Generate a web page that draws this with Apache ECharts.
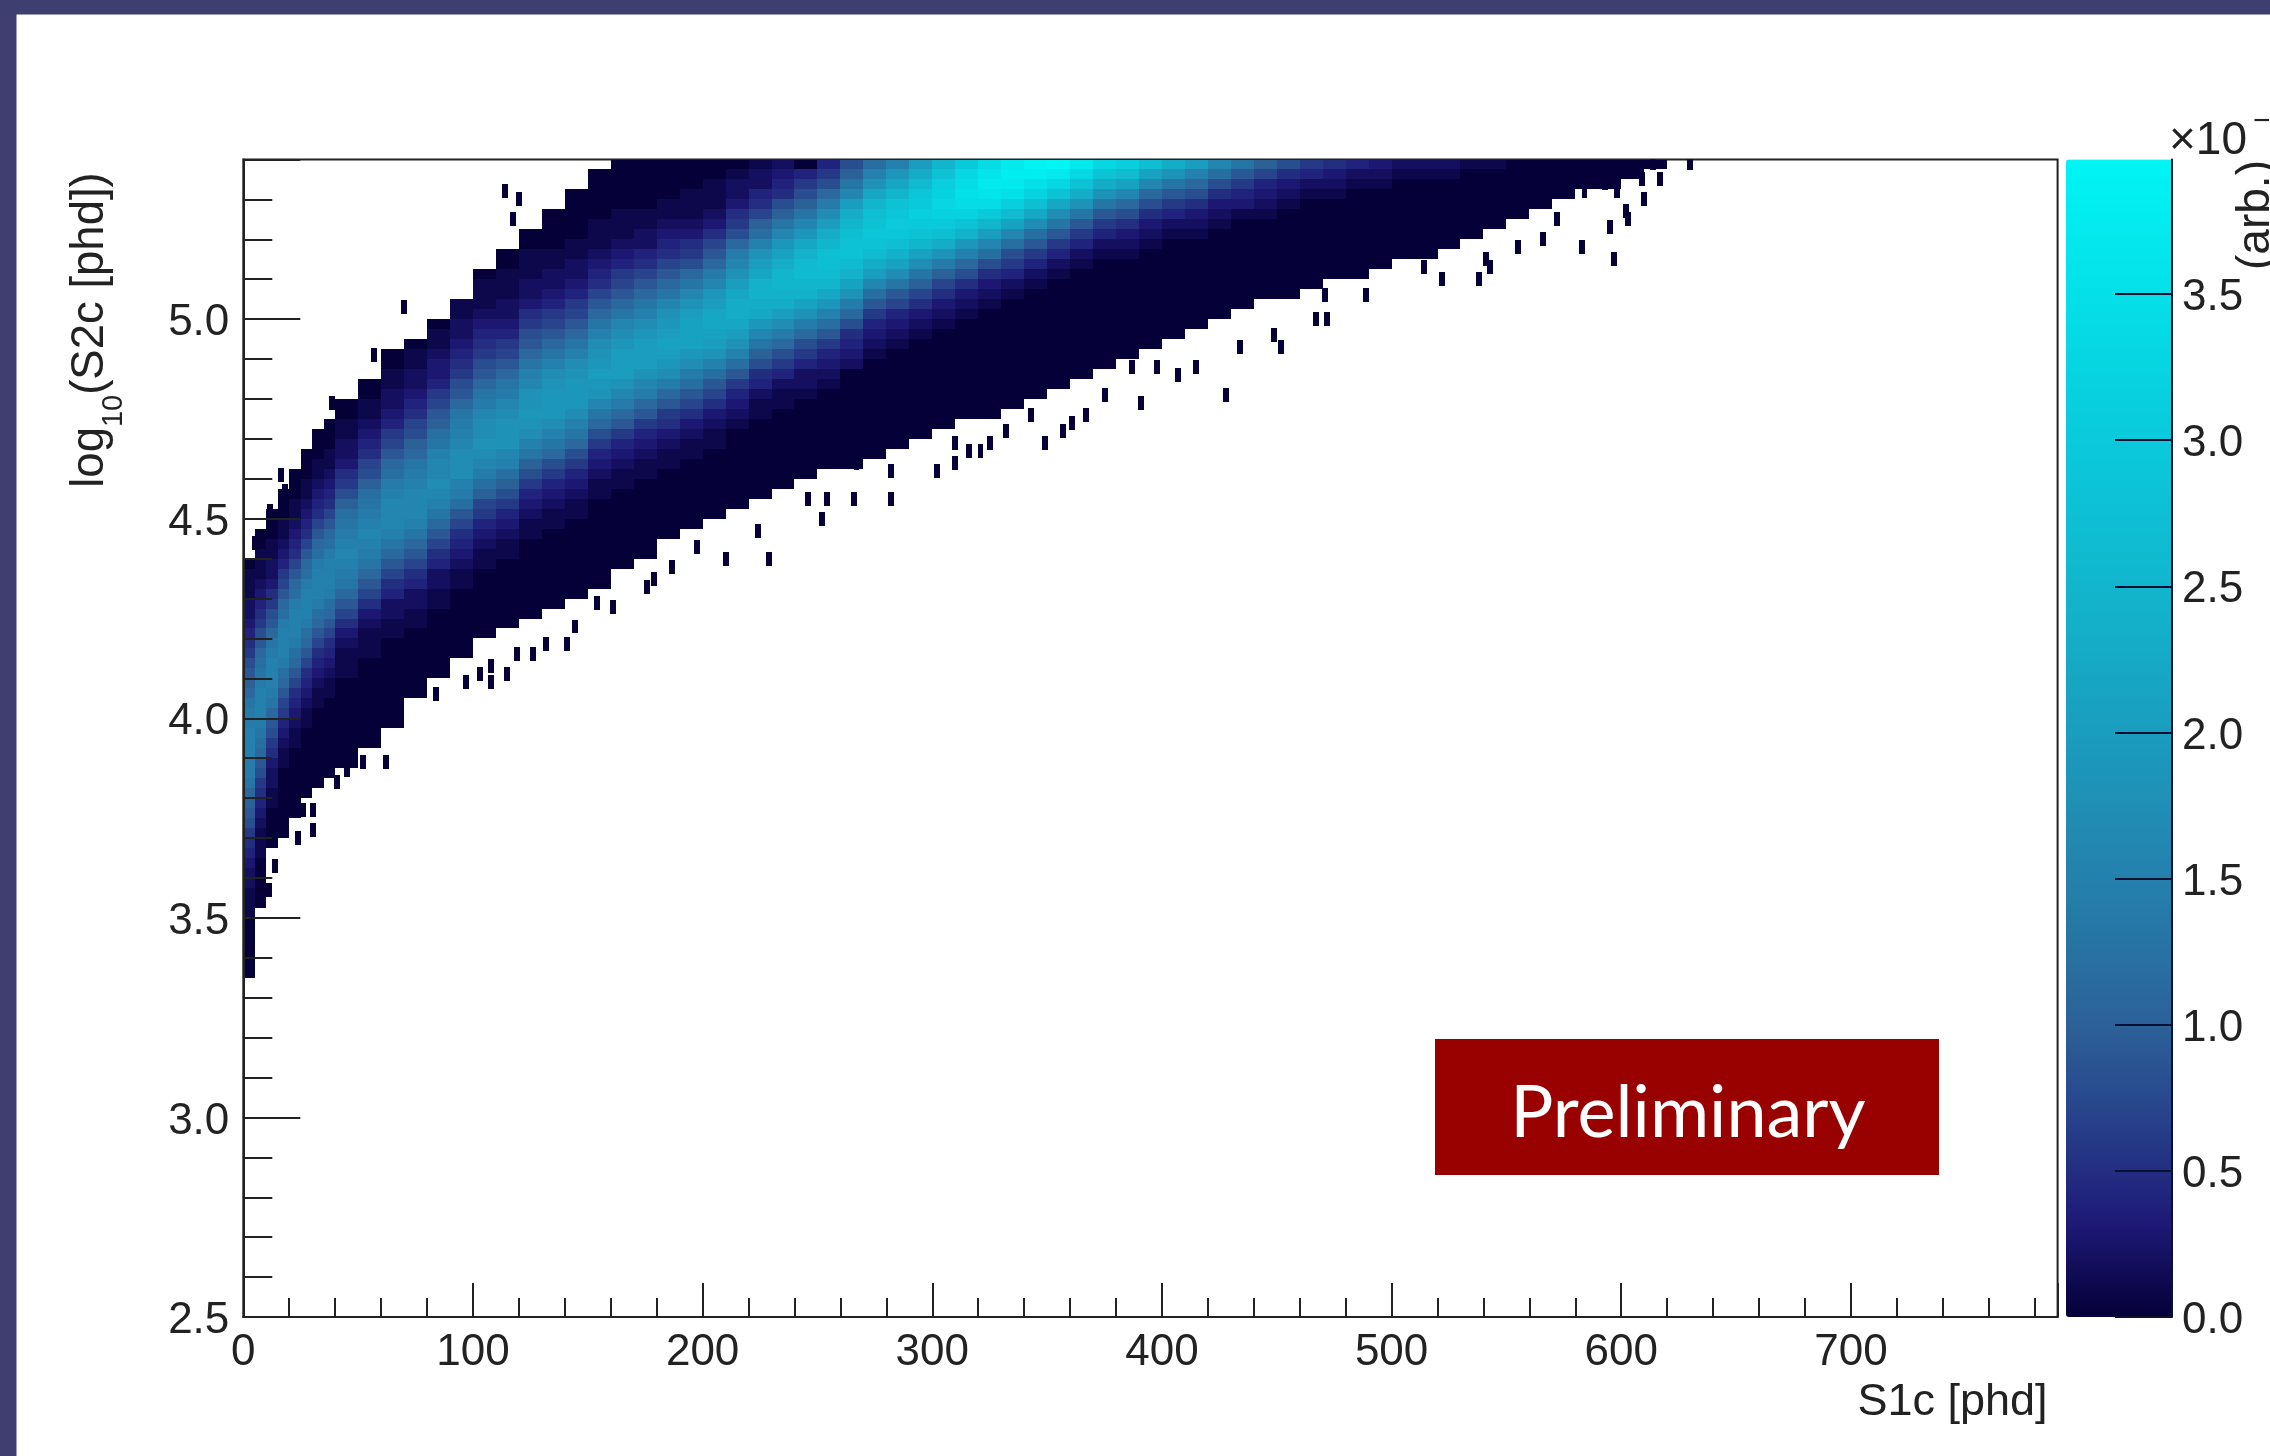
<!DOCTYPE html>
<html><head><meta charset="utf-8">
<style>html,body{margin:0;padding:0;background:#fff}#c{width:2270px;height:1456px}</style>
<script src="https://cdn.jsdelivr.net/npm/echarts@6/dist/echarts.min.js"></script>
</head><body><div id="c"></div>
<script>
// S1c bin edges of the columns [phd]
const s1cEdges=[0,5,10,15,20,25,30,35,40,50,60,70,80,90,100,110,120,130,140,150,160,170,180,190,200,210,220,230,240,250,260,270,280,290,300,310,320,330,340,350,360,370,380,390,400,410,420,430,440,450,460,470,480,490,500,510,520,530,540,550,560,570,580,590,600,610,620];
// log10(S2c) lower and upper edge of the filled band in each column
const bandLow=[3.35,3.525,3.675,3.7,3.75,3.8,3.825,3.85,3.875,3.925,3.975,4.05,4.1,4.15,4.2,4.225,4.25,4.275,4.3,4.325,4.375,4.4,4.45,4.475,4.5,4.525,4.55,4.575,4.6,4.625,4.625,4.65,4.675,4.7,4.725,4.75,4.75,4.775,4.8,4.825,4.85,4.875,4.9,4.925,4.95,4.975,5.0,5.025,5.05,5.05,5.075,5.1,5.1,5.125,5.15,5.15,5.175,5.2,5.225,5.25,5.275,5.3,5.325,5.325,5.35,5.375];
const bandHigh=[4.4,4.475,4.525,4.575,4.625,4.675,4.725,4.75,4.8,4.85,4.925,4.95,5.0,5.05,5.125,5.175,5.225,5.275,5.325,5.375,5.4,5.4,5.4,5.4,5.4,5.4,5.4,5.4,5.4,5.4,5.4,5.4,5.4,5.4,5.4,5.4,5.4,5.4,5.4,5.4,5.4,5.4,5.4,5.4,5.4,5.4,5.4,5.4,5.4,5.4,5.4,5.4,5.4,5.4,5.4,5.4,5.4,5.4,5.4,5.4,5.4,5.4,5.4,5.4,5.4,5.4];
// log10(S2c) lower edge of the first listed row of the glowing core in each column
const coreStart=[3.5,3.65,3.775,3.875,3.925,3.975,4.025,4.05,4.1,4.15,4.2,4.225,4.275,4.325,4.375,4.4,4.45,4.475,4.5,4.55,4.575,4.6,4.625,4.65,4.675,4.725,4.75,4.775,4.8,4.825,4.875,4.9,4.925,4.95,4.975,5.0,5.025,5.05,5.075,5.1,5.125,5.15,5.15,5.175,5.2,5.2,5.225,5.25,5.25,5.275,5.3,5.3,5.325,5.325,5.35,5.35,5.35,5.375,5.375];
// density read per column, bottom row first, in units of 0.1 x 10^-4; rows are 0.025 tall
const coreDensity=[
[1,1,1,2,2,3,4,5,6,8,9,10,11,13,14,14,15,15,15,14,14,13,11,10,9,8,6,5,4,3,2,2,1,1,1],
[1,1,1,2,3,4,5,6,8,9,11,12,13,14,15,15,15,14,13,12,11,9,8,6,5,4,3,2,1,1,1],
[1,1,2,2,3,5,6,8,9,11,13,14,15,15,15,14,13,11,9,8,6,5,3,2,2,1,1],
[1,1,2,3,4,6,7,9,11,12,14,15,15,15,14,12,11,9,7,6,4,3,2,1,1],
[1,1,2,3,4,5,7,9,11,12,14,15,15,15,14,12,11,9,7,5,4,3,2,1,1],
[1,1,2,3,4,5,7,9,11,12,14,15,15,15,14,12,11,9,7,5,4,3,2,1,1],
[1,1,2,3,4,5,7,9,11,12,14,15,15,15,14,12,11,9,7,5,4,3,2,1,1],
[1,1,2,3,4,5,7,9,11,12,14,15,15,15,14,12,11,9,7,5,4,3,2,1,1],
[1,1,1,2,3,5,7,9,11,13,14,15,16,15,14,13,12,10,8,6,5,3,2,2,1,1],
[1,1,1,2,3,5,7,9,11,13,14,15,16,15,14,13,12,10,8,7,5,4,3,2,1,1],
[1,1,2,2,4,5,7,9,11,13,15,16,16,16,15,14,12,11,9,7,6,4,3,2,2,1,1],
[1,1,2,2,4,5,7,9,11,13,15,16,16,16,15,14,13,11,10,8,7,5,4,3,2,2,1,1],
[1,1,2,2,4,5,7,9,11,13,15,16,17,16,16,15,13,12,10,9,7,6,4,3,3,2,1,1],
[1,1,2,3,4,5,7,9,12,14,15,17,17,17,16,15,14,13,11,9,8,6,5,4,3,2,2,1,1,1],
[1,1,2,3,4,6,7,10,12,14,16,17,18,17,17,16,14,13,11,9,8,6,5,4,3,2,1,1,1],
[1,1,2,3,4,6,8,10,12,15,16,18,18,18,17,16,14,13,11,9,7,6,4,3,2,2,1,1,1],
[1,1,2,3,4,6,8,10,13,15,17,18,19,18,18,16,15,13,11,9,8,6,5,3,2,2,1,1,1],
[1,1,2,3,4,6,8,11,13,15,17,19,19,19,18,17,15,13,11,9,7,6,4,3,2,2,1,1],
[1,1,2,3,4,6,8,11,13,15,17,19,19,19,18,17,15,13,11,9,7,6,4,3,2,2,1,1],
[1,1,2,3,4,6,8,11,13,16,18,19,20,19,18,17,15,13,11,9,7,5,4,3,2,1,1,1],
[1,1,2,3,4,6,9,11,14,16,18,20,20,20,19,17,16,13,11,9,7,6,4,3,2,1,1,1],
[1,1,2,3,4,6,9,11,14,16,18,20,20,20,19,17,15,13,11,9,7,5,4,2,2,1,1],
[1,1,2,3,5,6,9,11,14,17,19,20,21,20,19,18,16,13,11,9,7,5,4,3,2,1,1],
[1,1,2,3,5,7,9,12,14,17,19,21,21,21,20,18,16,13,11,8,6,5,3,2,1,1,1],
[1,1,2,3,5,7,9,12,15,18,20,21,22,22,20,19,16,14,11,9,7,5,3,2,1,1,1],
[1,2,3,4,6,9,12,15,18,20,22,23,23,22,20,18,16,14,11,8,6,5,3,2,2,1],
[1,1,2,4,5,8,10,13,16,19,22,23,24,24,22,20,18,15,12,10,7,5,4,2,2,1,1],
[1,1,2,4,6,8,11,14,17,20,23,24,25,25,23,21,19,16,13,10,8,5,4,3,2,1,1],
[1,2,2,4,6,8,11,14,18,21,24,25,26,26,24,22,19,16,13,10,8,6,4],
[1,2,3,4,6,9,12,15,19,22,25,26,27,27,25,23,20,17,14,11,8,6,4],
[2,3,4,5,8,11,14,18,21,24,26,28,28,27,25,23,20,16,13,10,8],
[1,2,3,4,6,9,12,16,20,23,26,28,29,28,27,25,22,18,15,12],
[1,2,3,4,7,9,13,17,21,24,27,29,30,29,28,25,22,19,15],
[1,2,3,5,7,10,13,17,21,25,28,30,31,30,29,26,23,20],
[1,2,3,5,7,10,14,18,23,27,30,32,33,32,31,28,25],
[1,2,3,5,8,11,15,19,24,28,32,34,35,34,33,30],
[1,2,3,5,8,12,16,20,25,30,34,36,37,36,34],
[1,2,4,6,8,12,16,21,26,31,35,37,38,37],
[1,2,4,6,9,12,17,22,27,32,35,38,39],
[1,2,4,6,9,13,17,22,28,33,37,40],
[1,2,4,6,9,13,18,23,28,33,37],
[1,2,4,6,9,13,18,23,28,33],
[1,2,3,5,8,11,16,21,26,31],
[1,2,3,5,8,11,16,21,27],
[1,2,4,6,9,13,18,23],
[1,2,3,5,8,11,15,20],
[1,2,3,5,8,12,16],
[1,3,4,6,9,13],
[1,2,3,4,7,10],
[1,2,3,5,8],
[1,2,4,6],
[1,2,3,5],
[1,2,4],
[1,2,3],
[1,2],
[1,2],
[1,2],
[1],
[1]
];
// isolated low-count bins outside the main band
const strayS1c=[175.7,186.6,197.5,186.6,178.9,175.7,161,154,132,141,144.5,126,119,108,103,115,97,108,84,62,52,45,41,30.5,26,30.5,24,14,11,114,117.4,70,57,120,38.6,210,229,224,245.7,254,266,282,252,267,310,302,282,321,316,349,325,310,332,357,361,367,343,391,428,375,415,398,387,407,434,452,449,467,472,489,471,522,538,543,514,541,597,583,555,566,595,603,572,602,610,598,609,617,614,630,588,593,584,32,16.5,18,11.6,5];
const strayLogS2=[4.473,4.473,4.43,4.38,4.35,4.33,4.28,4.29,4.185,4.185,4.23,4.16,4.16,4.13,4.11,4.11,4.09,4.09,4.06,3.89,3.89,3.87,3.84,3.77,3.77,3.72,3.7,3.63,3.57,5.32,5.25,5.03,4.91,5.3,4.79,4.4,4.4,4.47,4.55,4.55,4.55,4.55,4.5,4.64,4.64,4.62,4.62,4.67,4.67,4.69,4.69,4.69,4.72,4.72,4.74,4.76,4.76,4.79,4.81,4.81,4.88,4.88,4.88,4.86,4.93,4.93,4.96,5.0,5.0,5.06,5.06,5.1,5.1,5.13,5.13,5.15,5.15,5.18,5.18,5.2,5.23,5.25,5.25,5.27,5.3,5.32,5.35,5.35,5.39,5.39,5.37,5.34,5.32,4.67,4.61,4.57,4.52,4.44];
const colorbarTicks=[0,0.5,1,1.5,2,2.5,3,3.5];
const zMax=3.96;
const xTitle='S1c [phd]';
const noteText='Preliminary';

const ROW=0.025, STRAY_W=2.6, STRAY_H=0.035;
const rowOf=y=>Math.round((y-2.5)/ROW);
const cells=[];
bandLow.forEach((lo,i)=>{
  const core=coreDensity[i]||[], c0=i<coreStart.length?rowOf(coreStart[i]):0;
  for(let r=rowOf(lo);r<rowOf(bandHigh[i]);r++){
    const v=core[r-c0]||0, y0=2.5+r*ROW;
    cells.push([s1cEdges[i],s1cEdges[i+1],y0,y0+ROW,v/10]);
  }
});
strayS1c.forEach((x,i)=>cells.push([x-STRAY_W/2,x+STRAY_W/2,strayLogS2[i]-STRAY_H/2,strayLogS2[i]+STRAY_H/2,0]));

const INK='#222';
const FONT='"Liberation Sans",Arial,sans-serif';
const labelStyle={fontFamily:FONT,fontSize:44,color:INK};
const G={l:243.3,t:159.5,w:1814.3,h:1157.5};
const chart=echarts.init(document.getElementById('c'),null,{renderer:'canvas'});
chart.setOption({
  backgroundColor:'#fff',
  animation:false,
  grid:[
    {left:G.l,top:G.t,width:G.w,height:G.h,show:true,borderColor:INK,borderWidth:2,backgroundColor:'#fff'},
    {left:2066,top:G.t,width:106,height:G.h,show:false}
  ],
  xAxis:[
    {type:'value',gridIndex:0,min:0,max:790,interval:100,z:5,
     name:xTitle,nameLocation:'end',nameGap:-10,
     nameTextStyle:{fontFamily:FONT,fontSize:45,color:INK,align:'right',verticalAlign:'top',padding:[63,0,0,0]},
     axisLine:{lineStyle:{color:INK,width:2}},
     axisTick:{inside:true,length:34,lineStyle:{color:INK,width:2}},
     minorTick:{show:true,splitNumber:5,length:19,lineStyle:{color:INK,width:2}},
     splitLine:{show:false},minorSplitLine:{show:false},
     axisLabel:Object.assign({margin:14,showMaxLabel:false,showMinLabel:true},labelStyle)},
    {type:'value',gridIndex:1,min:0,max:1,show:false}
  ],
  yAxis:[
    {type:'value',gridIndex:0,min:2.5,max:5.4,interval:0.5,z:5,
     axisLine:{lineStyle:{color:INK,width:2}},
     axisTick:{inside:true,length:57,lineStyle:{color:INK,width:2}},
     minorTick:{show:true,splitNumber:5,length:29,lineStyle:{color:INK,width:2}},
     splitLine:{show:false},minorSplitLine:{show:false},
     axisLabel:Object.assign({margin:14,verticalAlign:'top',lineHeight:8,showMaxLabel:false,showMinLabel:true,formatter:v=>v.toFixed(1)},labelStyle)},
    {type:'value',gridIndex:1,min:0,max:zMax,position:'right',z:10,
     axisLine:{show:true,onZero:false,lineStyle:{color:'#0a1030',width:2}},
     axisTick:{show:true,inside:true,length:57,customValues:colorbarTicks,lineStyle:{color:'#0a1030',width:2}},
     splitLine:{show:false},
     axisLabel:Object.assign({margin:10,verticalAlign:'top',lineHeight:8,customValues:colorbarTicks,formatter:v=>v.toFixed(1)},labelStyle)}
  ],
  visualMap:[{
    type:'continuous',seriesIndex:0,dimension:4,min:0,max:zMax,calculable:false,realtime:false,hoverLink:false,
    orient:'vertical',left:2066,top:G.t,itemWidth:106,itemHeight:G.h,padding:0,text:null,showLabel:false,
    inRange:{color:['#050038','#1e1a78','#27408a','#2c6098','#2677a6','#2289b2','#1a9cbe','#14adc7','#0fbcd1','#0ac8da','#06d7e3','#03e6ec','#00f5f5']}
  }],
  series:[{
    type:'custom',xAxisIndex:0,yAxisIndex:0,coordinateSystem:'cartesian2d',clip:true,z:2,silent:true,
    progressive:0,encode:{x:[0,1],y:[2,3]},dimensions:['x0','x1','y0','y1','z'],data:cells,
    renderItem:(p,api)=>{
      const a=api.coord([api.value(0),api.value(3)]), b=api.coord([api.value(1),api.value(2)]);
      const x=Math.round(a[0]), y=Math.round(a[1]);
      return {type:'rect',shape:{x:x,y:y,width:Math.round(b[0])-x,height:Math.round(b[1])-y},style:{fill:api.visual('color')}};
    }
  }],
  graphic:{elements:[
    {type:'rect',z:20,shape:{x:0,y:0,width:2270,height:14.5},style:{fill:'#3e3f70'}},
    {type:'rect',z:20,shape:{x:0,y:0,width:16.5,height:1456},style:{fill:'#3e3f70'}},
    {type:'rect',z:20,shape:{x:1435,y:1039,width:504,height:136},style:{fill:'#990000'}},
    {type:'text',z:21,x:1688,y:1114,style:{text:noteText,fill:'#fff',font:'72px Lato',textAlign:'center',textVerticalAlign:'middle'}},
    {type:'text',z:21,x:90,y:330,rotation:Math.PI/2,style:{
      text:'{a|log}{b|10}{a|(S2c [phd])}',textAlign:'center',textVerticalAlign:'middle',
      rich:{a:{fontFamily:FONT,fontSize:45.5,fill:INK,lineHeight:76,verticalAlign:'middle'},
            b:{fontFamily:FONT,fontSize:29,fill:INK,lineHeight:76,verticalAlign:'bottom'}}}},
    {type:'text',z:21,x:2169,y:141,style:{text:'×10',fill:INK,font:'46px "Liberation Sans"',textAlign:'left',textVerticalAlign:'middle'}},
    {type:'text',z:21,x:2253,y:122,style:{text:'−4',fill:INK,font:'30px "Liberation Sans"',textAlign:'left',textVerticalAlign:'middle'}},
    {type:'text',z:21,x:2256,y:215,rotation:Math.PI/2,style:{text:'(arb.)',fill:INK,font:'46px "Liberation Sans"',textAlign:'center',textVerticalAlign:'middle'}}
  ]}
});
</script></body></html>
